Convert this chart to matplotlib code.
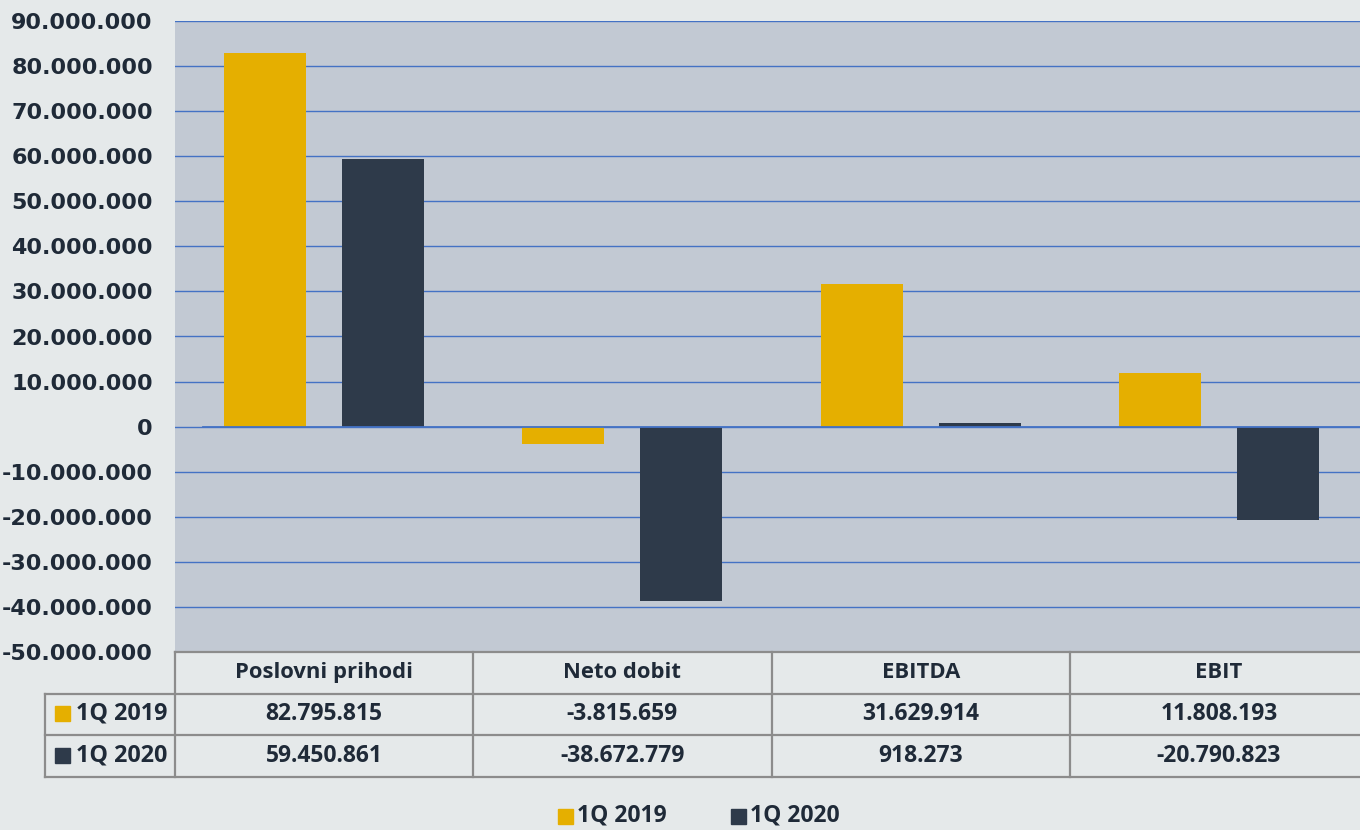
import numpy as np
import matplotlib.pyplot as plt
from matplotlib.patches import Rectangle
from matplotlib.lines import Line2D
from matplotlib.ticker import FuncFormatter

# data
categories = ["Poslovni prihodi", "Neto dobit", "EBITDA", "EBIT"]
series_names = ["1Q 2019", "1Q 2020"]
q1_2019 = [82795815, -3815659, 31629914, 11808193]
q1_2020 = [59450861, -38672779, 918273, -20790823]
colors = ["#E5AF00", "#2E3A4A"]

BG = "#E5E9EA"
PLOT_BG = "#C2C9D3"
GRID = "#4472C4"
TXT = "#1F2A38"
BORDER = "#8C8C8C"
TABLE_FONT = "Open Sans"

plt.rcParams["font.weight"] = "bold"


def fmt_num(v):
    s = f"{abs(int(v)):,}".replace(",", ".")
    return "-" + s if v < 0 else s


fig = plt.figure(figsize=(13.6, 8.3), dpi=100, facecolor=BG)
W, H = 1360, 830
AX_W = 1193
ax = fig.add_axes([175 / W, (H - 652) / H, AX_W / W, (652 - 21) / H])
ax.set_facecolor(PLOT_BG)

x = np.arange(len(categories))
bw = 0.275
off = 0.198
ax.bar(x - off, q1_2019, bw, color=colors[0], zorder=3)
ax.bar(x + off, q1_2020, bw, color=colors[1], zorder=3)

ax.set_xlim(-0.5, len(categories) - 0.5)
ax.set_ylim(-50_000_000, 90_000_000)
ax.set_yticks(np.arange(-50_000_000, 90_000_001, 10_000_000))
ax.yaxis.set_major_formatter(FuncFormatter(lambda v, p: fmt_num(v)))
ax.grid(axis="y", color=GRID, linewidth=1.0, zorder=1)
ax.axhline(0, xmin=28 / AX_W, xmax=1.0, color=GRID, linewidth=1.3, zorder=4)
ax.set_xticks([])
ax.tick_params(axis="y", length=0, pad=16, labelsize=16, labelcolor=TXT)
for sp in ax.spines.values():
    sp.set_visible(False)

# data table under the chart
row_h = 41.5 / (652 - 21)
tr = ax.get_xaxis_transform()
lw = 1.6
col_edges = np.arange(len(categories) + 1) - 0.5
label_left = (45 - 175) / AX_W * len(categories) - 0.5

ax.add_line(Line2D([-0.5, 3.5], [0, 0], transform=tr, color=BORDER, lw=lw, clip_on=False))
for k in range(1, 4):
    ax.add_line(Line2D([label_left, 3.5], [-k * row_h, -k * row_h],
                       transform=tr, color=BORDER, lw=lw, clip_on=False))
for ce in col_edges:
    ax.add_line(Line2D([ce, ce], [0, -3 * row_h], transform=tr, color=BORDER, lw=lw, clip_on=False))
ax.add_line(Line2D([label_left, label_left], [-row_h, -3 * row_h], transform=tr,
                   color=BORDER, lw=lw, clip_on=False))

for i, c in enumerate(categories):
    ax.text(i, -0.5 * row_h, c, transform=tr, ha="center", va="center",
            fontsize=15.8, fontweight="bold", color=TXT, family=TABLE_FONT)
    for r, vals in enumerate([q1_2019, q1_2020]):
        ax.text(i, -(1.5 + r) * row_h, fmt_num(vals[i]), transform=tr, ha="center",
                va="center", fontsize=16.5, fontweight="bold", color=TXT, family=TABLE_FONT)

for r, name in enumerate(series_names):
    fig.patches.append(Rectangle((55 / W, 1 - (721 + 42 * r) / H), 15 / W, 15 / H,
                                 transform=fig.transFigure, color=colors[r]))
    fig.text(76 / W, 1 - (713.5 + 42 * r) / H, name, ha="left", va="center",
             fontsize=16.8, fontweight="bold", color=TXT, family=TABLE_FONT)

# legend at the bottom (kept fully inside the figure)
for r, name in enumerate(series_names):
    sx = [558, 731][r]
    fig.patches.append(Rectangle((sx / W, 1 - 824 / H), 15 / W, 15 / H,
                                 transform=fig.transFigure, color=colors[r]))
    fig.text((sx + 19) / W, 1 - 815 / H, name, ha="left", va="center",
             fontsize=16.5, fontweight="bold", color=TXT, family=TABLE_FONT)

fig.savefig("out.png", dpi=100, facecolor=BG)
